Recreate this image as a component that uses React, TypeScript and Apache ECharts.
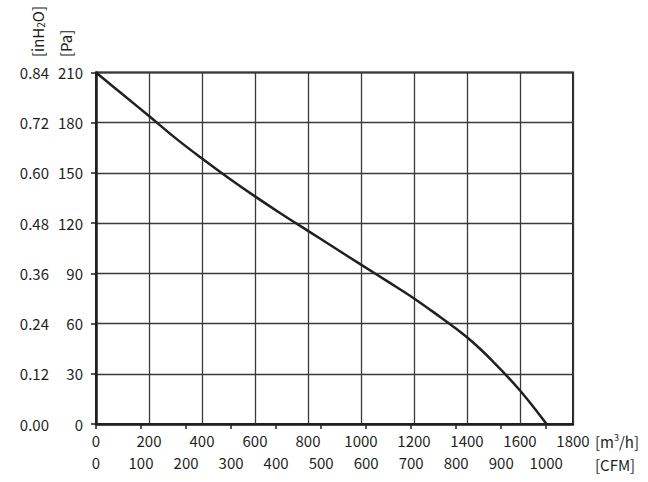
import React, { useEffect, useRef } from "react";
import * as echarts from "echarts";

const flowM3h = [0, 100, 200, 300, 400, 500, 600, 700, 800, 900, 1000, 1100, 1200, 1300, 1350, 1400, 1450, 1500, 1550, 1600, 1650, 1700];
const pressurePa = [210, 197, 184, 170.8, 158.6, 147, 136, 125.5, 115.4, 105.3, 95.2, 85.2, 75, 63.8, 58, 51.8, 44.8, 37, 28.8, 20, 10.3, 0];
const m3hMax = 1800;
const cfmPerM3h = 1 / 1.699;
const paMax = 210;
const inH2OMax = 0.84;

const TEXT = "#231f20";
const FONT = "'Noto Sans CJK SC', 'Noto Sans', sans-serif";

export default function App() {
  const ref = useRef<HTMLDivElement>(null);
  useEffect(() => {
    if (!ref.current) return;
    const chart = echarts.init(ref.current, undefined, { renderer: "svg" });
    const data = flowM3h.map((x, i) => [x, pressurePa[i]]);
    chart.setOption({
      animation: false,
      backgroundColor: "#ffffff",
      textStyle: { fontFamily: FONT, color: TEXT },
      grid: {
        left: 96,
        right: 75,
        top: 72.5,
        bottom: 58,
        show: true,
        borderColor: TEXT,
        borderWidth: 2,
        containLabel: false,
      },
      xAxis: [
        {
          type: "value",
          position: "bottom",
          min: 0,
          max: m3hMax,
          interval: 200,
          axisLine: { show: true, lineStyle: { color: TEXT, width: 2.5 } },
          axisTick: { show: false },
          splitLine: { show: true, lineStyle: { color: "#3a3a3a", width: 1.3 } },
          axisLabel: {
            color: TEXT,
            fontSize: 15,
            fontFamily: FONT,
            margin: 9,
            formatter: (v: number) => String(Math.round(v)),
          },
        },
        {
          type: "value",
          position: "bottom",
          min: 0,
          max: m3hMax * cfmPerM3h,
          interval: 100,
          axisLine: { show: false },
          axisTick: { show: true, length: 5, lineStyle: { color: TEXT, width: 1.5 } },
          splitLine: { show: false },
          axisLabel: {
            color: TEXT,
            fontSize: 15,
            fontFamily: FONT,
            margin: 31,
            showMaxLabel: false,
            formatter: (v: number) => (Math.abs(v - Math.round(v / 100) * 100) < 1e-6 ? String(Math.round(v)) : ""),
          },
        },
      ],
      yAxis: [
        {
          type: "value",
          position: "left",
          min: 0,
          max: paMax,
          interval: 30,
          axisLine: { show: true, lineStyle: { color: TEXT, width: 2.5 } },
          axisTick: { show: true, length: 5, lineStyle: { color: TEXT, width: 1.5 } },
          splitLine: { show: true, lineStyle: { color: "#3a3a3a", width: 1.3 } },
          axisLabel: { color: TEXT, fontSize: 15, fontFamily: FONT, margin: 13 },
        },
        {
          type: "value",
          position: "left",
          offset: 35,
          min: 0,
          max: inH2OMax,
          interval: 0.12,
          axisLine: { show: false },
          axisTick: { show: false },
          splitLine: { show: false },
          axisLabel: {
            color: TEXT,
            fontSize: 15,
            fontFamily: FONT,
            margin: 12,
            formatter: (v: number) => v.toFixed(2),
          },
        },
      ],
      series: [
        {
          type: "line",
          xAxisIndex: 0,
          yAxisIndex: 0,
          data,
          smooth: 0.4,
          showSymbol: false,
          symbol: "none",
          lineStyle: { color: TEXT, width: 2.5 },
        },
      ],
      graphic: [
        {
          type: "text",
          x: 37,
          y: 57,
          rotation: Math.PI / 2,
          style: {
            text: "[inH{s|2}O]",
            fill: TEXT,
            fontSize: 15,
            fontFamily: FONT,
            textAlign: "left",
            textVerticalAlign: "middle",
            rich: { s: { fontSize: 10, fill: TEXT, fontFamily: FONT, verticalAlign: "bottom", padding: [6, 0, 0, 0] } },
          },
        },
        {
          type: "text",
          x: 65,
          y: 57,
          rotation: Math.PI / 2,
          style: {
            text: "[Pa]",
            fill: TEXT,
            fontSize: 15,
            fontFamily: FONT,
            textAlign: "left",
            textVerticalAlign: "middle",
          },
        },
        {
          type: "text",
          x: 595,
          y: 441,
          style: {
            text: "[m{s|3}/h]",
            fill: TEXT,
            fontSize: 15,
            fontFamily: FONT,
            textAlign: "left",
            textVerticalAlign: "middle",
            rich: { s: { fontSize: 9, fill: TEXT, fontFamily: FONT, padding: [0, 0, 8, 0] } },
          },
        },
        {
          type: "text",
          x: 595,
          y: 464,
          style: {
            text: "[CFM]",
            fill: TEXT,
            fontSize: 15,
            fontFamily: FONT,
            textAlign: "left",
            textVerticalAlign: "middle",
          },
        },
      ],
    });
    return () => chart.dispose();
  }, []);
  return (
    <div
      ref={ref}
      style={{ position: "fixed", left: 0, top: 0, width: 648, height: 482 }}
    />
  );
}
